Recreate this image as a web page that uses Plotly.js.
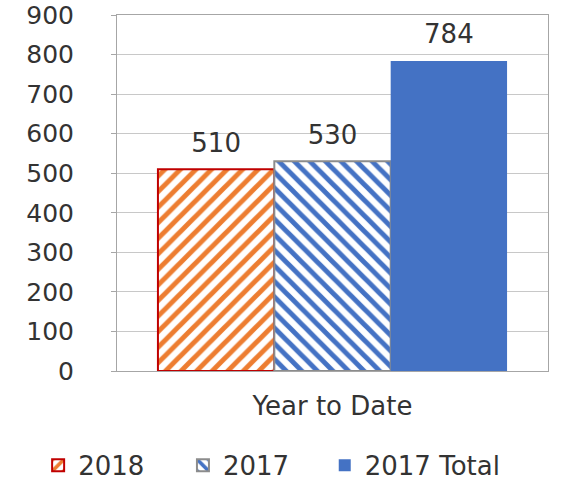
<!DOCTYPE html>
<html>
<head>
<meta charset="utf-8">
<script src="https://cdn.plot.ly/plotly-3.0.1.min.js"></script>
<style>html,body{margin:0;padding:0;background:#fff;}#chart{width:561px;height:483px;}</style>
</head>
<body>
<div id="chart"></div>
<script>
const categories = ["Year to Date"];
const seriesNames = ["2018", "2017", "2017 Total"];
const values2018 = [510];
const values2017 = [530];
const values2017Total = [784];
const yTicks = [0, 100, 200, 300, 400, 500, 600, 700, 800, 900];

const font = "DejaVu Sans, Verdana, sans-serif";
const ink = "#333333";
const labelFont = {family: font, size: 26, color: ink};

function barTrace(name, vals, marker, legendId) {
  return {
    type: "bar", name: name, x: categories, y: vals, legend: legendId,
    offsetgroup: name, marker: marker, hoverinfo: "none"
  };
}
function labelTrace(name, vals) {
  return {
    type: "scatter", mode: "markers+text", name: name + " label", x: categories, y: vals,
    offsetgroup: name, text: vals.map(v => String(v)), textposition: "top center",
    textfont: labelFont, marker: {size: 16, opacity: 0}, showlegend: false,
    cliponaxis: false, hoverinfo: "none"
  };
}

const data = [
  barTrace(seriesNames[0], values2018, {
    color: "#ffffff",
    pattern: {shape: "/", fgcolor: "#ED7D31", bgcolor: "#ffffff", size: 11, solidity: 0.45},
    line: {color: "#C00000", width: 2}
  }, "legend"),
  barTrace(seriesNames[1], values2017, {
    color: "#ffffff",
    pattern: {shape: "\\", fgcolor: "#4472C4", bgcolor: "#ffffff", size: 11, solidity: 0.45},
    line: {color: "#8c8c8c", width: 2}
  }, "legend2"),
  barTrace(seriesNames[2], values2017Total, {color: "#4472C4", line: {width: 0}}, "legend3"),
  labelTrace(seriesNames[0], values2018),
  labelTrace(seriesNames[1], values2017),
  labelTrace(seriesNames[2], values2017Total)
];

function legendAt(x) {
  return {orientation: "h", x: x, xanchor: "left", y: -0.265, yanchor: "middle",
          font: {family: font, size: 26, color: ink}, itemwidth: 30, bgcolor: "rgba(0,0,0,0)"};
}

const layout = {
  width: 561, height: 483,
  margin: {l: 117, r: 13, t: 15, b: 112, autoexpand: false},
  paper_bgcolor: "#ffffff", plot_bgcolor: "#ffffff",
  font: {family: font, color: ink, size: 22},
  barmode: "group", bargap: 0.19, bargroupgap: 0,
  scattermode: "group", scattergap: 0.19,
  showlegend: true,
  legend: legendAt(-0.183),
  legend2: legendAt(0.153),
  legend3: legendAt(0.482),
  xaxis: {type: "category", showline: true, mirror: true, linecolor: "#a6a6a6", linewidth: 1,
          ticks: "", tickfont: {family: font, size: 26, color: ink}, ticklabelstandoff: 12,
          fixedrange: true},
  yaxis: {range: [0, 900], tickvals: yTicks, showgrid: true, gridcolor: "#c8c8c8", gridwidth: 1,
          showline: true, mirror: true, linecolor: "#a6a6a6", linewidth: 1,
          ticks: "outside", ticklen: 5, tickcolor: "#a6a6a6",
          tickfont: {family: font, size: 25, color: ink}, ticklabelstandoff: 32,
          zeroline: false, fixedrange: true}
};

Plotly.newPlot("chart", data, layout, {displayModeBar: false, staticPlot: true});
</script>
</body>
</html>
